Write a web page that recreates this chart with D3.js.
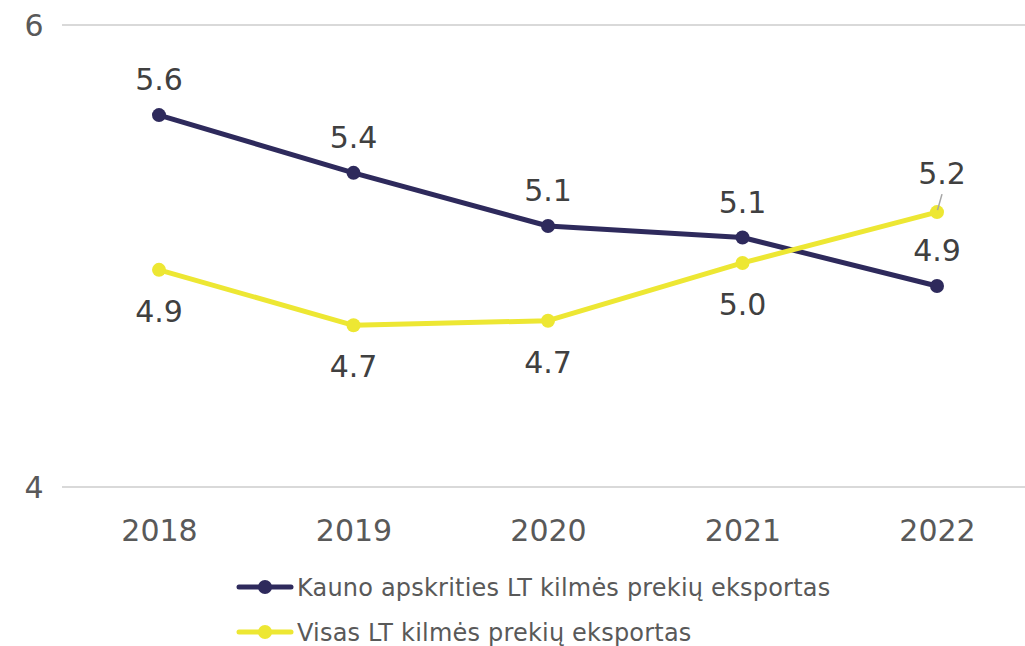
<!DOCTYPE html>
<html>
<head>
<meta charset="utf-8">
<script src="https://cdn.jsdelivr.net/npm/d3@7"></script>
<style>
  body { margin: 0; background: #fff; }
  svg { display: block; font-family: "DejaVu Sans", Verdana, sans-serif; }
</style>
</head>
<body>
<div id="chart"></div>
<script>
'use strict';

// data
let years = ['2018', '2019', '2020', '2021', '2022'];
let kaunas = [5.61, 5.36, 5.13, 5.08, 4.87];
let visas = [4.94, 4.70, 4.72, 4.97, 5.19];
let kaunasLabels = ['5.6', '5.4', '5.1', '5.1', '4.9'];
let visasLabels = ['4.9', '4.7', '4.7', '5.0', '5.2'];
let yTicks = [4, 6];
let seriesNames = ['Kauno apskrities LT kilmės prekių eksportas', 'Visas LT kilmės prekių eksportas'];

let w = 1025;
let h = 646;
let textColor = '#595959';
let labelColor = '#404040';
let colors = ['#2e2a5c', '#ede733'];

let svg = d3.select('#chart').append('svg')
	.attr('width', w)
	.attr('height', h);

let x = d3.scalePoint()
	.domain(years)
	.range([159, 937]);

let y = d3.scaleLinear()
	.domain([4, 6])
	.range([487, 25]);

// gridlines
svg.selectAll('line.grid')
	.data(yTicks)
	.enter()
	.append('line')
	.attr('class', 'grid')
	.attr('x1', 62)
	.attr('x2', w)
	.attr('y1', d => y(d))
	.attr('y2', d => y(d))
	.attr('stroke', '#d9d9d9')
	.attr('stroke-width', 2);

// y tick labels
svg.selectAll('text.ytick')
	.data(yTicks)
	.enter()
	.append('text')
	.attr('class', 'ytick')
	.attr('x', 34)
	.attr('y', d => y(d) + 11)
	.attr('text-anchor', 'middle')
	.attr('font-size', 30)
	.attr('fill', textColor)
	.text(d => d);

// x axis labels
let xAxis = svg.append('g')
	.attr('transform', 'translate(0,' + 487 + ')')
	.call(d3.axisBottom(x).tickSize(0).tickPadding(54));
xAxis.select('.domain').remove();
xAxis.selectAll('text')
	.attr('font-size', 30)
	.attr('font-family', '"DejaVu Sans", Verdana, sans-serif')
	.attr('fill', textColor)
	.attr('dy', 0);

let line = d3.line()
	.x((d, i) => x(years[i]))
	.y(d => y(d));

let series = [kaunas, visas];

series.forEach((s, k) => {
	svg.append('path')
		.datum(s)
		.attr('d', line)
		.attr('fill', 'none')
		.attr('stroke', colors[k])
		.attr('stroke-width', 5)
		.attr('stroke-linejoin', 'round');

	svg.selectAll('circle.s' + k)
		.data(s)
		.enter()
		.append('circle')
		.attr('class', 's' + k)
		.attr('cx', (d, i) => x(years[i]))
		.attr('cy', d => y(d))
		.attr('r', 7)
		.attr('fill', colors[k]);
});

// data labels
let kaunasPos = ['above', 'above', 'above', 'above', 'above'];
let visasPos = ['below', 'below', 'below', 'below', 'above'];

function addLabels(vals, labels, pos) {
	svg.selectAll(null)
		.data(vals)
		.enter()
		.append('text')
		.attr('x', (d, i) => x(years[i]) + (pos[i] === 'above' && vals === visas ? 5 : 0))
		.attr('y', (d, i) => y(d) + (pos[i] === 'above' ? (vals === visas ? -28 : -25) : 52))
		.attr('text-anchor', 'middle')
		.attr('font-size', 30)
		.attr('fill', labelColor)
		.text((d, i) => labels[i]);
}
addLabels(kaunas, kaunasLabels, kaunasPos);
addLabels(visas, visasLabels, visasPos);

// leader line for 2022 yellow label
svg.append('line')
	.attr('x1', x('2022') + 5)
	.attr('y1', y(visas[4]) - 18)
	.attr('x2', x('2022') + 0.5)
	.attr('y2', y(visas[4]) - 2)
	.attr('stroke', '#a6a6a6')
	.attr('stroke-width', 1.5);

// legend
let legend = svg.selectAll('g.legend')
	.data(seriesNames)
	.enter()
	.append('g')
	.attr('class', 'legend')
	.attr('transform', (d, i) => 'translate(0,' + (587 + i * 45) + ')');

legend.append('line')
	.attr('x1', 239)
	.attr('x2', 291)
	.attr('stroke', (d, i) => colors[i])
	.attr('stroke-width', 5)
	.attr('stroke-linecap', 'round');

legend.append('circle')
	.attr('cx', 265)
	.attr('r', 7)
	.attr('fill', (d, i) => colors[i]);

legend.append('text')
	.attr('x', 297)
	.attr('y', 9)
	.attr('font-size', 24)
	.attr('letter-spacing', 0.2)
	.attr('fill', textColor)
	.text(d => d);
</script>
</body>
</html>
